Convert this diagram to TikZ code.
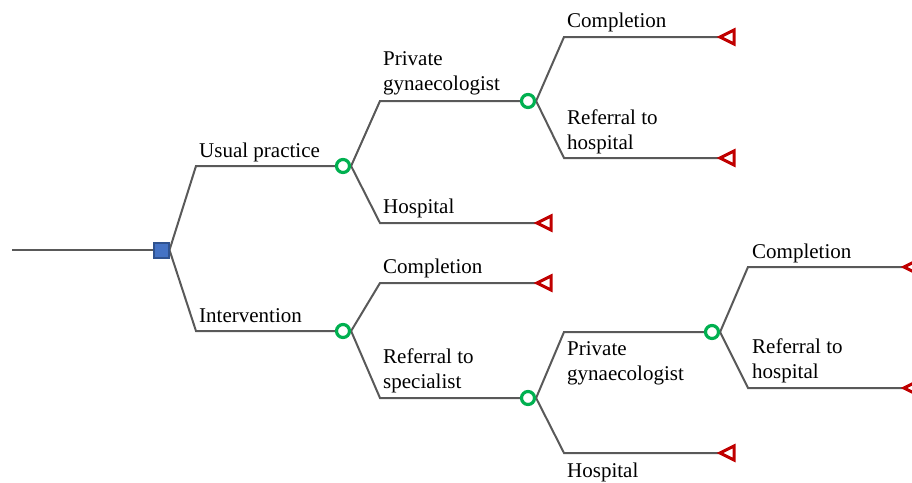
\documentclass[tikz,border=0pt]{standalone}
\usepackage{fontspec}
\setmainfont{Liberation Serif}
\usetikzlibrary{backgrounds}
\definecolor{edgec}{HTML}{595959}
\definecolor{chancec}{HTML}{00B050}
\definecolor{decfill}{HTML}{4472C4}
\definecolor{decdraw}{HTML}{2F528F}
\definecolor{termc}{HTML}{C00000}
\begin{document}
\begin{tikzpicture}[x=1pt,y=-1pt,
  edge/.style={draw=edgec,line width=2pt},
  chance/.style={circle,draw=chancec,line width=3.2pt,fill=white,minimum size=13pt,inner sep=0pt},
  decision/.style={rectangle,draw=decdraw,line width=2pt,fill=decfill,minimum size=15pt,inner sep=0pt},
  termtri/.style={draw=termc,line width=3pt,fill=white,line join=miter},
  lab/.style={font=\fontsize{21}{25}\selectfont,anchor=base west,inner sep=0pt,align=left},
]
\useasboundingbox (0,0) rectangle (912,482);
% nodes
\node[decision] (D) at (161,250) {};
\node[chance] (C1) at (343,166) {};
\node[chance] (C2) at (343,331) {};
\node[chance] (C3) at (528,101) {};
\node[chance] (C4) at (528,398) {};
\node[chance] (C5) at (712,332) {};
\coordinate (R) at (12,250);
% terminal tips
\coordinate (T1) at (720,37);
\coordinate (T2) at (720,158);
\coordinate (T3) at (537,223);
\coordinate (T4) at (537,283);
\coordinate (T5) at (720,453);
\coordinate (T6) at (904,267);
\coordinate (T7) at (904,388);
% bends
\coordinate (b1) at (196,166);
\coordinate (b2) at (196,331);
\coordinate (b3) at (380,101);
\coordinate (b4) at (380,223);
\coordinate (b5) at (564,37);
\coordinate (b6) at (564,158);
\coordinate (b7) at (380,283);
\coordinate (b8) at (380,398);
\coordinate (b9) at (564,332);
\coordinate (b10) at (564,453);
\coordinate (b11) at (748,267);
\coordinate (b12) at (748,388);
\begin{pgfonlayer}{background}
\draw[edge] (R) -- (D.center);
\draw[edge] (D.east) -- (b1) -- (C1.center);
\draw[edge] (D.east) -- (b2) -- (C2.center);
\draw[edge] (C1.east) -- (b3) -- (C3.center);
\draw[edge] (C1.east) -- (b4) -- (T3);
\draw[edge] (C3.east) -- (b5) -- (T1);
\draw[edge] (C3.east) -- (b6) -- (T2);
\draw[edge] (C2.east) -- (b7) -- (T4);
\draw[edge] (C2.east) -- (b8) -- (C4.center);
\draw[edge] (C4.east) -- (b9) -- (C5.center);
\draw[edge] (C4.east) -- (b10) -- (T5);
\draw[edge] (C5.east) -- (b11) -- (T6);
\draw[edge] (C5.east) -- (b12) -- (T7);
\end{pgfonlayer}
\foreach \t in {T1,T2,T3,T4,T5,T6,T7}{
  \draw[termtri] (\t) -- ++(14,-7) -- ++(0,14) -- cycle;
}
% labels
\node[lab] (L1) at (199,157) {Usual practice};
\node[lab] (L2) at (199,322) {Intervention};
\node[lab] (L3) at (383,90) {Private\\gynaecologist};
\node[lab] (L4) at (383,213) {Hospital};
\node[lab] (L5) at (567,27) {Completion};
\node[lab] (L6) at (567,149) {Referral to\\hospital};
\node[lab] (L7) at (383,273) {Completion};
\node[lab] (L8) at (383,388) {Referral to\\specialist};
\node[lab] (L9) at (567,380) {Private\\gynaecologist};
\node[lab] (L10) at (567,477) {Hospital};
\node[lab] (L11) at (752,258) {Completion};
\node[lab] (L12) at (752,378) {Referral to\\hospital};
\end{tikzpicture}
\end{document}
